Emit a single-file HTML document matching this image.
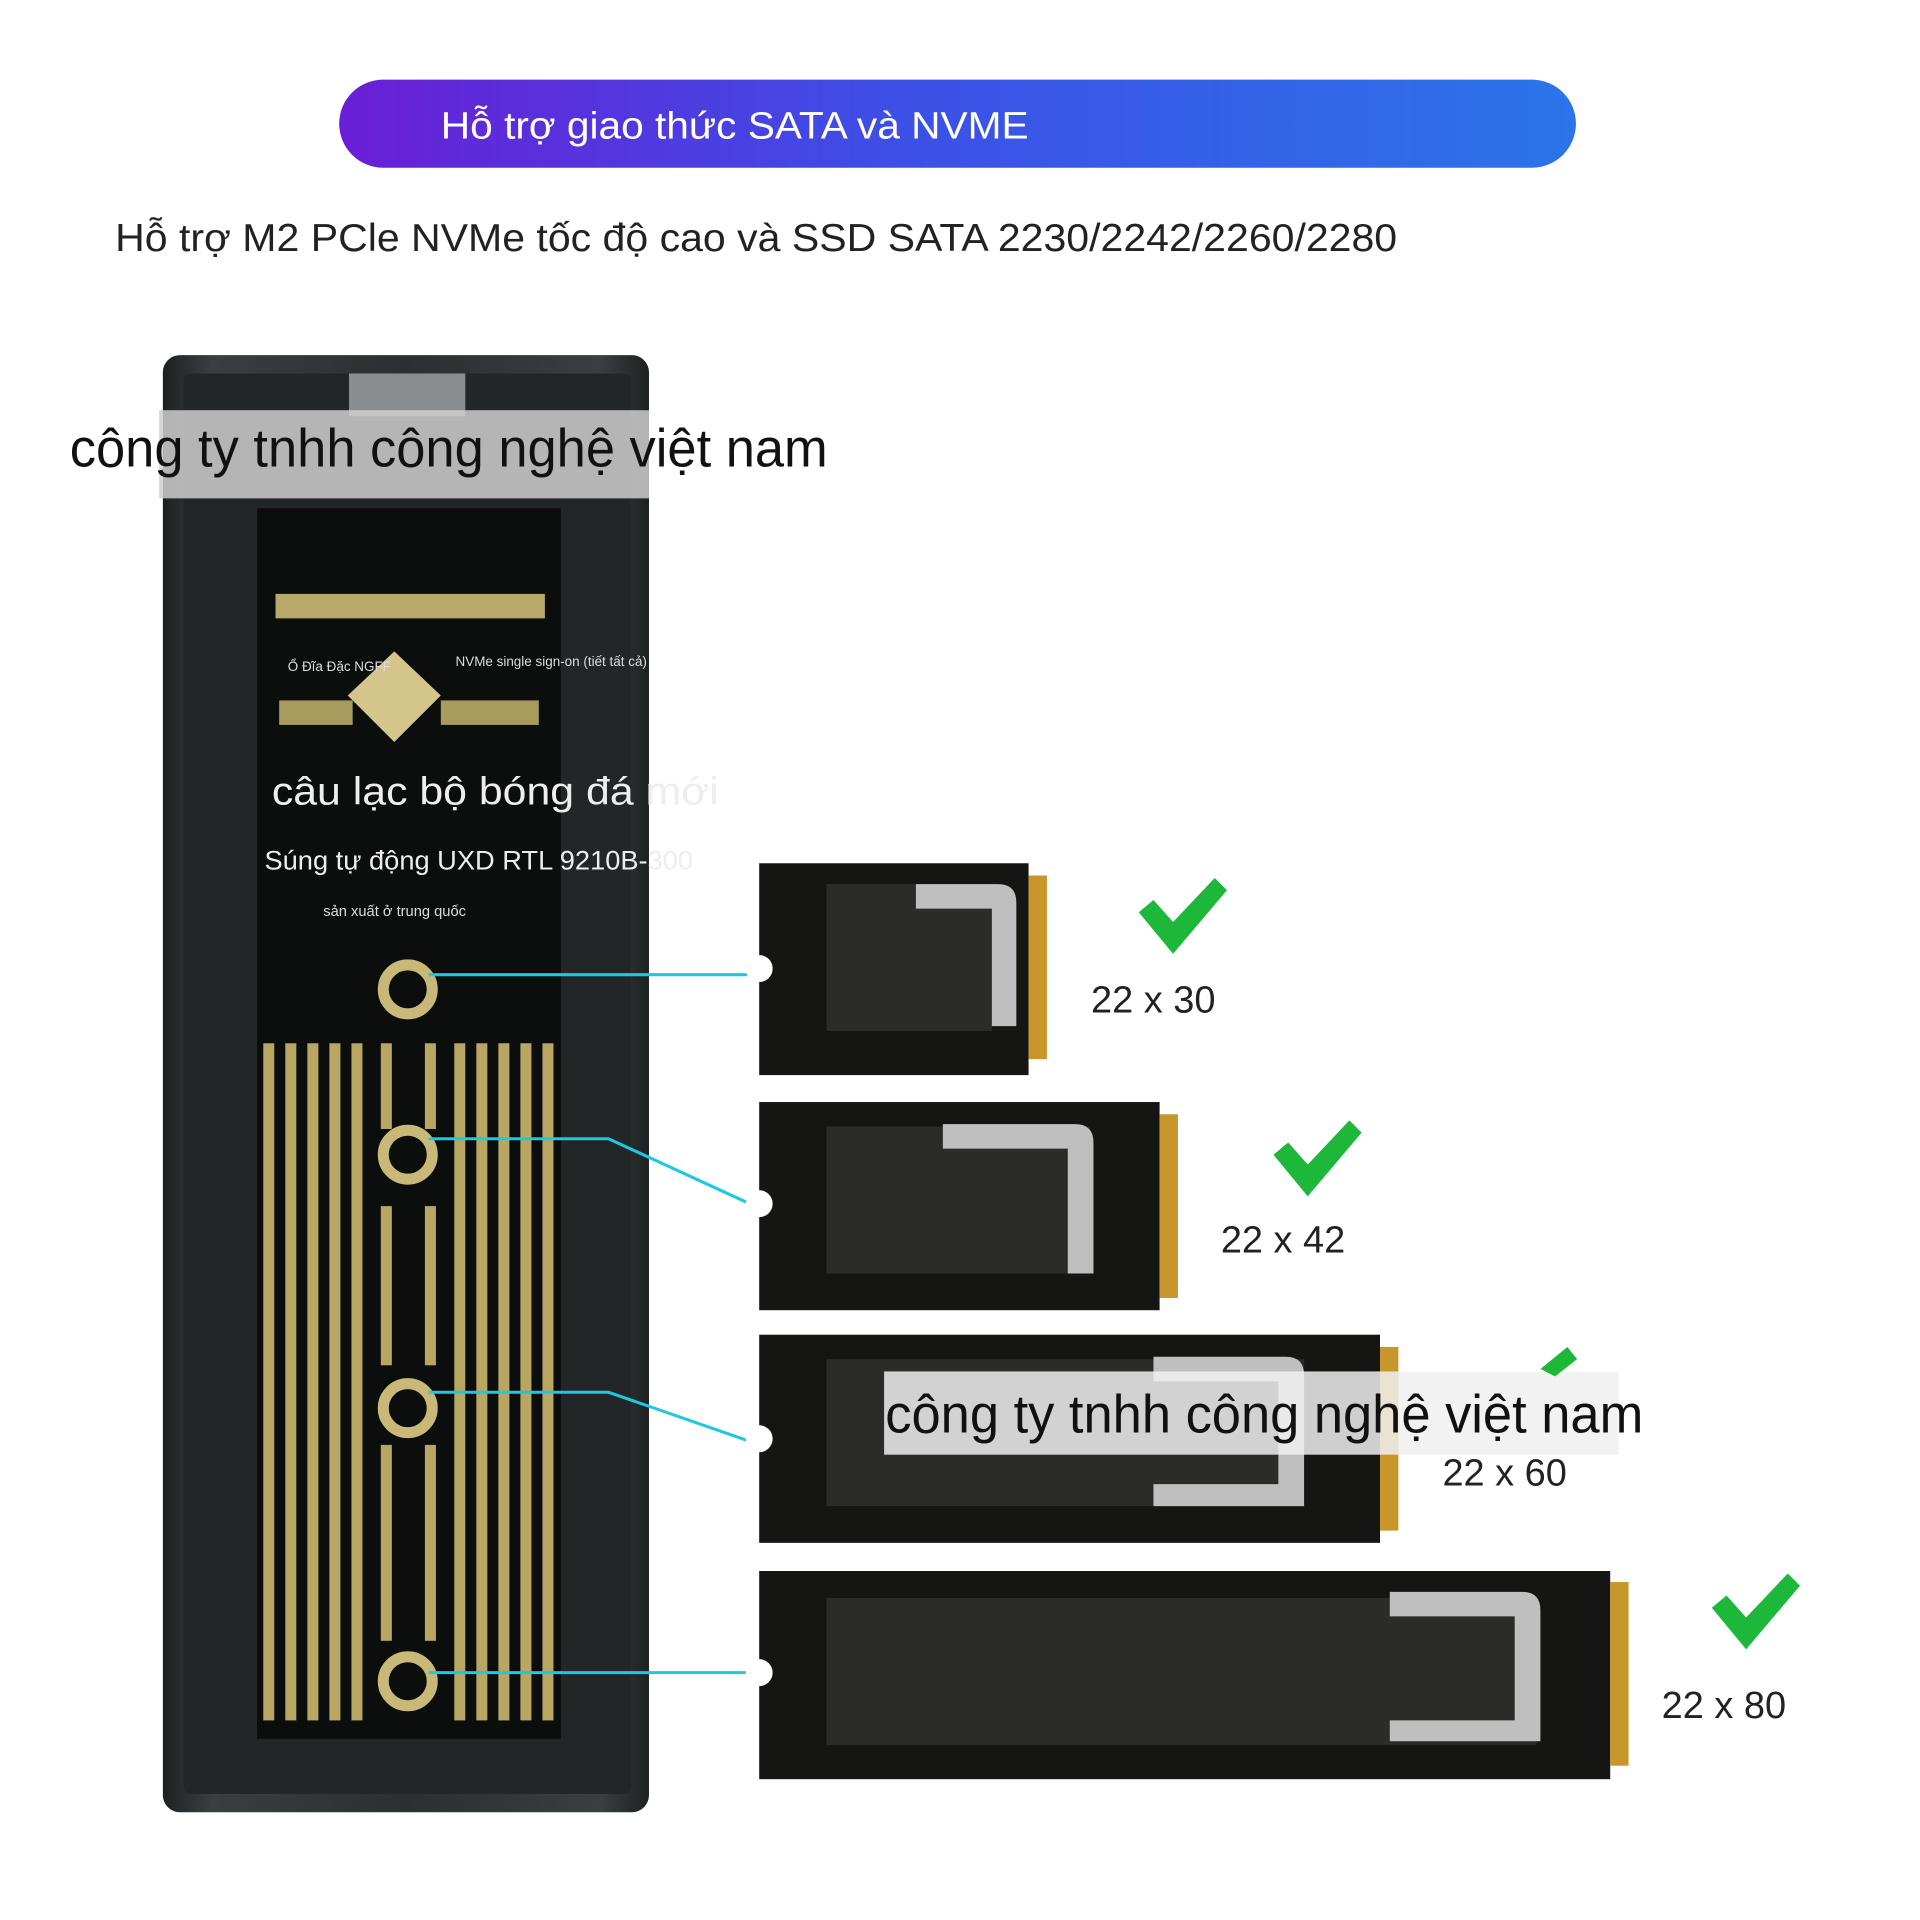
<!DOCTYPE html>
<html><head><meta charset="utf-8"><style>
html,body{margin:0;padding:0;background:#fff}
svg{display:block}
text{font-family:"Liberation Sans","Noto Sans CJK SC",sans-serif}
</style></head><body>
<svg width="1920" height="1920" viewBox="0 0 1568 1568" xmlns="http://www.w3.org/2000/svg">
<defs>
<linearGradient id="bn" x1="0" x2="1" y1="0" y2="0">
<stop offset="0" stop-color="#6a1ed6"/><stop offset="0.45" stop-color="#3d4fe6"/><stop offset="1" stop-color="#2b74ea"/>
</linearGradient>
<linearGradient id="enc" x1="0" x2="1">
<stop offset="0" stop-color="#1e2122"/><stop offset="0.1" stop-color="#3a3e40"/><stop offset="0.5" stop-color="#2c2f31"/><stop offset="0.9" stop-color="#3a3e40"/><stop offset="1" stop-color="#1e2122"/>
</linearGradient>
<g id="chk"><path d="M0 28 L12 18 L28 36 L62 0 L72 10 L28 62 Z" fill="#1db83a"/></g>
</defs>
<rect width="1568" height="1568" fill="#fff"/>
<rect x="277" y="65" width="1010" height="72" rx="36" fill="url(#bn)"/>
<text x="360" y="113" font-size="31" fill="#fff" textLength="480" lengthAdjust="spacingAndGlyphs">Hỗ trợ giao thức SATA và NVME</text>
<text x="94" y="205" font-size="32" fill="#222" textLength="1047" lengthAdjust="spacingAndGlyphs">Hỗ trợ M2 PCle NVMe tốc độ cao và SSD SATA 2230/2242/2260/2280</text>

<!-- enclosure -->
<rect x="133" y="290" width="397" height="1190" rx="14" fill="url(#enc)"/>
<rect x="150" y="305" width="365" height="1160" rx="6" fill="#232627"/>
<rect x="285" y="305" width="95" height="35" fill="#8a8d90"/>
<rect x="210" y="415" width="248" height="1005" fill="#0c0d0d"/>
<rect x="225" y="485" width="220" height="20" fill="#b8a96a"/>
<polygon points="322,532 360,568 322,606 284,568" fill="#d4c58a"/>
<rect x="228" y="572" width="60" height="20" fill="#a89b5e"/>
<rect x="360" y="572" width="80" height="20" fill="#a89b5e"/>
<g fill="#b8a762">
<rect x="215" y="852" width="9" height="553"/><rect x="233" y="852" width="9" height="553"/><rect x="251" y="852" width="9" height="553"/>
<rect x="269" y="852" width="9" height="553"/><rect x="287" y="852" width="9" height="553"/>
<rect x="311" y="852" width="9" height="70"/><rect x="347" y="852" width="9" height="70"/>
<rect x="311" y="985" width="9" height="130"/><rect x="347" y="985" width="9" height="130"/>
<rect x="311" y="1180" width="9" height="160"/><rect x="347" y="1180" width="9" height="160"/>
<rect x="371" y="852" width="9" height="553"/><rect x="389" y="852" width="9" height="553"/><rect x="407" y="852" width="9" height="553"/>
<rect x="425" y="852" width="9" height="553"/><rect x="443" y="852" width="9" height="553"/>
</g>
<g fill="#0c0d0d" stroke="#c9b978" stroke-width="9">
<circle cx="333" cy="808" r="20"/><circle cx="333" cy="943" r="20"/><circle cx="333" cy="1150" r="20"/><circle cx="333" cy="1373" r="20"/>
</g>
<text x="235" y="548" font-size="11" fill="#ddd">Ổ Đĩa Đặc NGFF</text>
<text x="372" y="544" font-size="11" fill="#ddd">NVMe  single sign-on (tiết tất cả)</text>
<text x="222" y="657" font-size="32" fill="#eee" textLength="365" lengthAdjust="spacingAndGlyphs">câu lạc bộ bóng đá mới</text>
<text x="216" y="710" font-size="22" fill="#eee" textLength="350" lengthAdjust="spacingAndGlyphs">Súng tự động UXD RTL 9210B-300</text>
<text x="264" y="748" font-size="12" fill="#ddd">sản xuất ở trung quốc</text>
<rect x="130" y="335" width="400" height="72" fill="#cfcfcf" opacity="0.85"/>
<text x="57" y="381" font-size="44" fill="#111" textLength="619" lengthAdjust="spacingAndGlyphs">công ty tnhh công nghệ việt nam</text>

<!-- connectors -->
<g stroke="#1ec8e0" stroke-width="2.5" fill="none">
<line x1="350" y1="796" x2="610" y2="796"/>
<polyline points="350,930 497,930 610,982"/>
<polyline points="350,1137 497,1137 612,1177"/>
<line x1="350" y1="1366" x2="612" y2="1366"/>
</g>

<!-- SSDs -->
<g>
<rect x="620" y="705" width="220" height="173" fill="#151614"/>
<rect x="840" y="715" width="15" height="150" fill="#c8962a"/>
<rect x="675" y="722" width="135" height="120" fill="#2b2c2a"/>
<path d="M748 722 H815 Q830 722 830 737 V838 H810 V742 H748 Z" fill="#bfbfbf"/>
<circle cx="620" cy="791" r="11" fill="#fff"/>
</g>
<g>
<rect x="620" y="900" width="327" height="170" fill="#151614"/>
<rect x="947" y="910" width="15" height="150" fill="#c8962a"/>
<rect x="675" y="920" width="215" height="120" fill="#2b2c2a"/>
<path d="M770 918 H878 Q893 918 893 933 V1040 H872 V938 H770 Z" fill="#bfbfbf"/>
<circle cx="620" cy="983" r="11" fill="#fff"/>
</g>
<g>
<rect x="620" y="1090" width="507" height="170" fill="#151614"/>
<rect x="1127" y="1100" width="15" height="150" fill="#c8962a"/>
<rect x="675" y="1110" width="390" height="120" fill="#2b2c2a"/>
<path d="M942 1108 H1050 Q1065 1108 1065 1123 V1230 H942 V1212 H1044 V1128 H942 Z" fill="#bfbfbf"/>
<circle cx="620" cy="1175" r="11" fill="#fff"/>
<rect x="722" y="1120" width="600" height="68" fill="#f0f0f0" opacity="0.85"/>
<text x="723" y="1170" font-size="44" fill="#111" textLength="619" lengthAdjust="spacingAndGlyphs">công ty tnhh công nghệ việt nam</text>
</g>
<g>
<rect x="620" y="1283" width="695" height="170" fill="#151614"/>
<rect x="1315" y="1292" width="15" height="150" fill="#c8962a"/>
<rect x="675" y="1305" width="580" height="120" fill="#2b2c2a"/>
<path d="M1135 1300 H1243 Q1258 1300 1258 1315 V1422 H1135 V1405 H1237 V1320 H1135 Z" fill="#bfbfbf"/>
<circle cx="620" cy="1366" r="11" fill="#fff"/>
</g>

<use href="#chk" x="930" y="717"/>
<use href="#chk" x="1040" y="915"/>
<use href="#chk" x="1398" y="1285"/>
<path d="M1258 1118 L1280 1100 L1288 1110 L1270 1124 Z" fill="#1db83a"/>
<g font-size="31" fill="#222">
<text x="891" y="827">22 x 30</text>
<text x="997" y="1023">22 x 42</text>
<text x="1178" y="1213">22 x 60</text>
<text x="1357" y="1403">22 x 80</text>
</g>
</svg>
</body></html>
